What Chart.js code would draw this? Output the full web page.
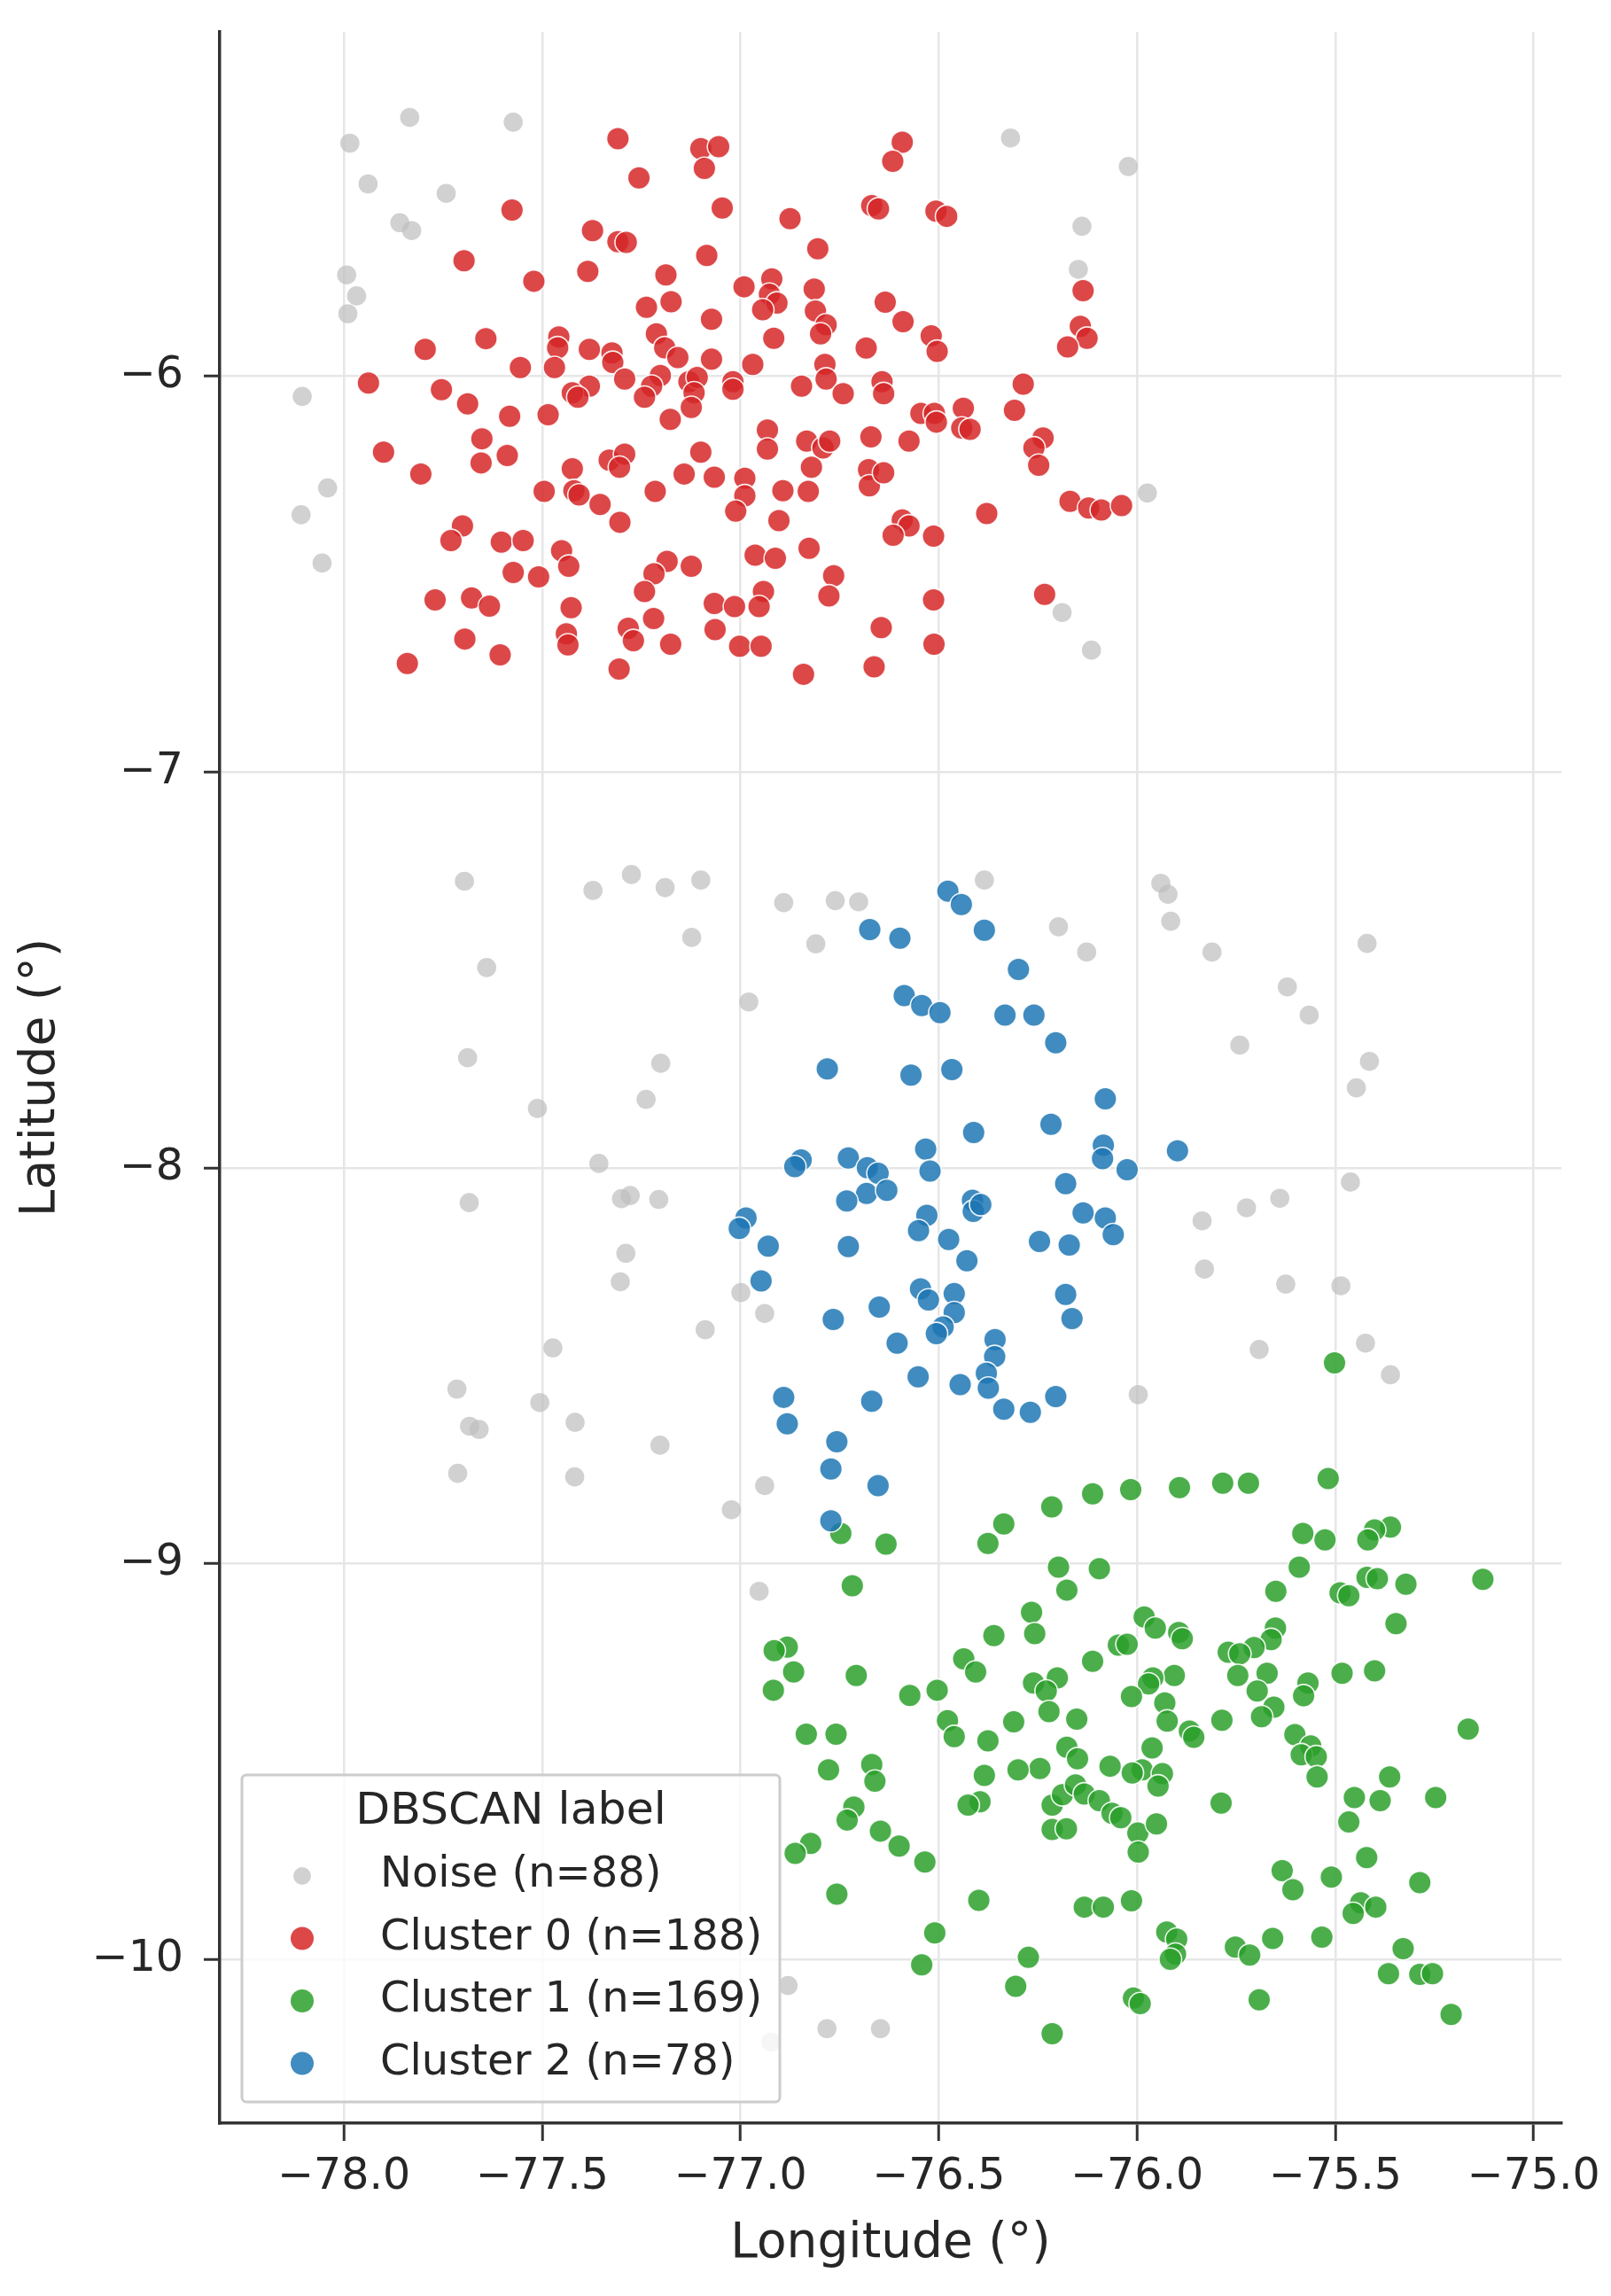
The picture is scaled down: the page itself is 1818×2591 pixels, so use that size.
<!DOCTYPE html>
<html lang="en">
<head>
    <meta charset="UTF-8" />
    <title>DBSCAN label</title>
    <script src="https://cdn.jsdelivr.net/npm/chart.js"></script>
    <style>
        html, body { margin: 0; padding: 0; background: #fff; }
        #wrap { width: 1818px; height: 2591px; position: relative; }
    </style>
</head>
<body>
<div id="wrap"><canvas id="grafica"></canvas></div>
<script>
    // ticks and series labels
    const xTicks = [-78, -77.5, -77, -76.5, -76, -75.5, -75];
    const yTicks = [-10, -9, -8, -7, -6];
    const seriesNames = ['Noise', 'Cluster 0', 'Cluster 1', 'Cluster 2'];
    const seriesCounts = [88, 188, 169, 78];

    // points as [longitude, latitude]
    const noisePts = [
        [-77.834,-5.346],[-77.573,-5.358],[-77.985,-5.411],[-77.939,-5.514],[-77.742,-5.538],
        [-77.859,-5.612],[-77.829,-5.632],[-77.993,-5.744],[-77.968,-5.797],[-77.990,-5.842],
        [-78.105,-6.051],[-78.041,-6.282],[-78.108,-6.350],[-78.055,-6.472],
        [-76.319,-5.398],[-76.022,-5.470],[-76.139,-5.621],[-76.148,-5.730],[-75.974,-6.295],
        [-76.189,-6.597],[-76.115,-6.692],
        [-77.696,-7.276],[-77.372,-7.299],[-77.275,-7.259],[-77.190,-7.292],[-77.100,-7.273],
        [-76.891,-7.330],[-76.761,-7.325],[-76.702,-7.328],[-77.123,-7.418],[-76.810,-7.434],
        [-77.640,-7.494],[-76.979,-7.581],[-77.688,-7.722],[-77.201,-7.736],[-77.238,-7.827],
        [-77.512,-7.850],[-77.357,-7.989],[-77.684,-8.088],[-77.300,-8.078],[-77.278,-8.070],
        [-77.206,-8.080],[-77.289,-8.216],[-77.303,-8.288],[-76.999,-8.315],[-76.939,-8.368],
        [-77.089,-8.409],[-77.473,-8.455],[-77.715,-8.559],[-77.506,-8.593],[-77.417,-8.643],
        [-77.683,-8.653],[-77.659,-8.661],[-77.203,-8.701],[-77.713,-8.772],[-77.418,-8.781],
        [-76.939,-8.803],
        [-76.385,-7.273],[-76.198,-7.391],[-76.127,-7.455],[-75.940,-7.281],[-75.922,-7.309],
        [-75.915,-7.377],[-75.811,-7.455],[-75.420,-7.433],[-75.621,-7.543],[-75.566,-7.614],
        [-75.741,-7.690],[-75.414,-7.731],[-75.447,-7.798],[-75.462,-8.036],[-75.640,-8.077],
        [-75.724,-8.101],[-75.836,-8.134],[-75.830,-8.256],[-75.625,-8.294],[-75.486,-8.298],
        [-75.692,-8.459],[-75.424,-8.443],[-75.361,-8.523],[-75.997,-8.573],
        [-77.023,-8.864],[-76.953,-9.070],[-76.880,-10.066],[-76.782,-10.175],[-76.647,-10.175],
        [-76.923,-10.209]
    ];

    const cluster0Pts = [
        [-77.309,-5.400],[-77.100,-5.425],[-77.055,-5.420],[-77.091,-5.475],[-77.256,-5.499],
        [-77.046,-5.575],[-77.576,-5.580],[-77.373,-5.632],[-77.309,-5.660],[-77.288,-5.662],
        [-77.697,-5.708],[-77.085,-5.695],[-77.385,-5.735],[-77.521,-5.760],[-77.188,-5.744],
        [-76.991,-5.774],[-77.237,-5.826],[-77.175,-5.812],[-77.073,-5.856],[-77.458,-5.901],
        [-77.461,-5.928],[-77.212,-5.893],[-77.191,-5.928],[-77.158,-5.953],[-77.795,-5.932],
        [-77.642,-5.905],[-77.381,-5.932],[-77.324,-5.941],[-77.322,-5.965],[-77.073,-5.957],
        [-77.555,-5.978],[-77.469,-5.978],[-77.938,-6.017],[-77.292,-6.007],[-77.202,-5.998],
        [-77.224,-6.025],[-77.130,-6.014],[-77.109,-6.003],[-77.117,-6.042],[-77.019,-6.014],
        [-77.019,-6.033],[-77.242,-6.053],[-77.381,-6.025],[-77.424,-6.042],[-77.410,-6.053],
        [-77.754,-6.034],[-77.688,-6.070],[-77.582,-6.101],[-77.485,-6.097],[-77.177,-6.109],
        [-77.124,-6.079],[-77.652,-6.158],[-77.654,-6.219],[-77.588,-6.200],[-77.900,-6.192],
        [-77.806,-6.247],[-77.424,-6.234],[-77.331,-6.212],[-77.292,-6.197],[-77.305,-6.230],
        [-77.100,-6.192],[-77.142,-6.247],[-77.066,-6.255],[-76.989,-6.258],[-76.989,-6.302],
        [-77.012,-6.341],[-77.495,-6.291],[-77.420,-6.289],[-77.407,-6.300],[-77.354,-6.324],
        [-77.215,-6.291],[-77.304,-6.369],[-77.701,-6.378],[-77.730,-6.415],[-77.603,-6.419],
        [-77.548,-6.415],[-77.451,-6.441],[-77.433,-6.480],[-77.185,-6.468],[-77.124,-6.480],
        [-77.218,-6.499],[-77.242,-6.544],[-77.573,-6.496],[-77.509,-6.507],[-77.770,-6.565],
        [-77.678,-6.560],[-77.633,-6.581],[-77.427,-6.585],[-77.066,-6.574],[-77.015,-6.582],
        [-77.219,-6.612],[-77.283,-6.637],[-77.270,-6.668],[-77.439,-6.651],[-77.435,-6.679],
        [-77.176,-6.677],[-77.695,-6.664],[-77.606,-6.704],[-77.064,-6.640],[-77.002,-6.682],
        [-77.840,-6.726],[-77.306,-6.740],
        [-76.592,-5.409],[-76.616,-5.457],[-76.669,-5.569],[-76.652,-5.577],[-76.507,-5.583],
        [-76.480,-5.596],[-76.875,-5.602],[-76.805,-5.678],[-76.136,-5.784],[-76.921,-5.754],
        [-76.927,-5.793],[-76.908,-5.815],[-76.944,-5.832],[-76.814,-5.780],[-76.811,-5.835],
        [-76.784,-5.870],[-76.798,-5.893],[-76.916,-5.904],[-76.635,-5.813],[-76.590,-5.862],
        [-76.519,-5.898],[-76.504,-5.937],[-76.683,-5.929],[-76.143,-5.874],[-76.126,-5.904],
        [-76.175,-5.926],[-76.969,-5.970],[-76.787,-5.970],[-76.784,-6.007],[-76.846,-6.025],
        [-76.741,-6.044],[-76.643,-6.014],[-76.639,-6.044],[-76.287,-6.020],[-76.309,-6.086],
        [-76.545,-6.094],[-76.511,-6.094],[-76.506,-6.116],[-76.438,-6.081],[-76.442,-6.131],
        [-76.421,-6.134],[-76.932,-6.136],[-76.932,-6.184],[-76.833,-6.164],[-76.792,-6.181],
        [-76.775,-6.164],[-76.671,-6.153],[-76.575,-6.164],[-76.237,-6.156],[-76.260,-6.181],
        [-76.248,-6.225],[-76.821,-6.230],[-76.893,-6.289],[-76.829,-6.291],[-76.677,-6.236],
        [-76.675,-6.277],[-76.639,-6.244],[-76.903,-6.365],[-76.169,-6.316],[-76.122,-6.333],
        [-76.090,-6.338],[-76.039,-6.327],[-76.379,-6.347],[-76.592,-6.363],[-76.575,-6.378],
        [-76.615,-6.402],[-76.513,-6.404],[-76.963,-6.452],[-76.912,-6.460],[-76.827,-6.435],
        [-76.765,-6.504],[-76.777,-6.555],[-76.942,-6.544],[-76.953,-6.582],[-76.513,-6.565],
        [-76.233,-6.551],[-76.645,-6.635],[-76.512,-6.677],[-76.948,-6.682],[-76.663,-6.734],
        [-76.841,-6.753]
    ];

    const cluster1Pts = [
        [-75.502,-8.493],
        [-76.747,-8.924],[-76.633,-8.951],[-76.718,-9.056],[-76.882,-9.211],[-76.915,-9.220],
        [-76.866,-9.274],[-76.917,-9.320],[-76.708,-9.283],[-76.834,-9.431],[-76.759,-9.431],
        [-76.778,-9.521],[-76.669,-9.508],[-76.661,-9.550],[-76.714,-9.615],[-76.731,-9.648],
        [-76.647,-9.676],[-76.823,-9.707],[-76.862,-9.732],[-76.757,-9.835],
        [-75.518,-8.785],[-75.784,-8.797],[-75.719,-8.797],[-75.893,-8.808],[-76.016,-8.813],
        [-76.112,-8.824],[-76.215,-8.857],[-76.336,-8.900],[-76.376,-8.949],[-75.582,-8.924],
        [-75.526,-8.940],[-75.361,-8.908],[-75.401,-8.915],[-75.418,-8.940],[-76.198,-9.009],
        [-76.095,-9.013],[-76.177,-9.067],[-75.591,-9.009],[-75.650,-9.070],[-75.420,-9.035],
        [-75.394,-9.038],[-75.488,-9.074],[-75.466,-9.081],[-75.322,-9.052],[-75.128,-9.040],
        [-75.347,-9.152],[-76.266,-9.123],[-76.258,-9.177],[-76.361,-9.182],[-75.982,-9.135],
        [-75.954,-9.163],[-75.895,-9.174],[-75.886,-9.190],[-76.047,-9.206],[-76.025,-9.204],
        [-76.112,-9.247],[-76.437,-9.241],[-76.407,-9.274],[-75.651,-9.163],[-75.662,-9.192],
        [-75.705,-9.212],[-75.770,-9.224],[-75.741,-9.228],[-76.504,-9.320],[-76.573,-9.333],
        [-76.261,-9.302],[-76.201,-9.289],[-76.229,-9.322],[-75.672,-9.277],[-75.746,-9.283],
        [-75.906,-9.283],[-75.960,-9.289],[-75.971,-9.304],[-76.014,-9.336],[-75.483,-9.277],
        [-75.401,-9.271],[-75.569,-9.302],[-75.580,-9.334],[-75.697,-9.322],[-75.655,-9.363],
        [-75.686,-9.387],[-75.930,-9.352],[-75.924,-9.398],[-76.222,-9.374],[-76.152,-9.393],
        [-76.311,-9.400],[-76.478,-9.397],[-76.461,-9.437],[-76.376,-9.448],[-75.786,-9.396],
        [-75.868,-9.423],[-75.857,-9.439],[-75.165,-9.418],[-75.602,-9.432],[-75.562,-9.461],
        [-75.586,-9.483],[-75.548,-9.488],[-75.546,-9.539],[-75.962,-9.466],[-76.177,-9.464],
        [-76.150,-9.493],[-76.068,-9.512],[-75.987,-9.521],[-76.012,-9.529],[-75.936,-9.531],
        [-75.947,-9.562],[-76.245,-9.518],[-76.300,-9.521],[-76.385,-9.535],[-76.396,-9.602],
        [-76.426,-9.610],[-76.214,-9.610],[-76.188,-9.584],[-76.155,-9.559],[-76.133,-9.582],
        [-76.095,-9.599],[-76.063,-9.631],[-76.041,-9.642],[-76.214,-9.672],[-76.178,-9.670],
        [-75.998,-9.681],[-75.997,-9.729],[-75.951,-9.658],[-75.788,-9.605],[-75.363,-9.539],
        [-75.452,-9.591],[-75.387,-9.599],[-75.247,-9.591],[-75.466,-9.653],[-76.600,-9.714],
        [-76.535,-9.754],[-75.421,-9.743],[-75.634,-9.776],[-75.607,-9.824],[-75.510,-9.792],
        [-75.287,-9.806],[-75.436,-9.857],[-75.398,-9.868],[-75.455,-9.884],[-76.399,-9.851],
        [-76.133,-9.868],[-76.085,-9.868],[-76.014,-9.852],[-76.510,-9.933],[-76.543,-10.014],
        [-75.925,-9.931],[-75.900,-9.949],[-75.903,-9.987],[-75.916,-10.000],[-75.752,-9.969],
        [-75.716,-9.989],[-75.658,-9.947],[-75.534,-9.944],[-75.329,-9.973],[-75.366,-10.036],
        [-75.287,-10.038],[-75.255,-10.036],[-75.208,-10.139],[-76.274,-9.995],[-76.306,-10.068],
        [-76.009,-10.098],[-75.992,-10.112],[-75.692,-10.102],[-76.214,-10.188]
    ];

    const cluster2Pts = [
        [-76.674,-7.398],[-76.781,-7.750],[-76.847,-7.980],[-76.863,-7.997],[-76.728,-7.975],
        [-76.680,-8.000],[-76.653,-8.014],[-76.682,-8.065],[-76.631,-8.057],[-76.732,-8.084],
        [-76.986,-8.127],[-77.003,-8.153],[-76.930,-8.198],[-76.728,-8.199],[-76.948,-8.286],
        [-76.650,-8.352],[-76.766,-8.383],[-76.891,-8.580],[-76.669,-8.590],[-76.882,-8.647],
        [-76.757,-8.692],[-76.772,-8.761],[-76.653,-8.803],[-76.772,-8.892],
        [-76.477,-7.301],[-76.443,-7.335],[-76.385,-7.400],[-76.598,-7.420],[-76.299,-7.499],
        [-76.587,-7.565],[-76.543,-7.590],[-76.497,-7.608],[-76.333,-7.614],[-76.260,-7.614],
        [-76.205,-7.684],[-76.570,-7.766],[-76.467,-7.752],[-76.080,-7.826],[-76.412,-7.911],
        [-76.217,-7.890],[-76.533,-7.953],[-76.085,-7.943],[-76.087,-7.977],[-76.025,-8.005],
        [-75.898,-7.957],[-76.522,-8.008],[-76.180,-8.040],[-76.415,-8.082],[-76.413,-8.110],
        [-76.394,-8.093],[-76.530,-8.120],[-76.551,-8.159],[-76.136,-8.114],[-76.080,-8.127],
        [-76.060,-8.169],[-76.475,-8.181],[-76.246,-8.186],[-76.171,-8.195],[-76.429,-8.235],
        [-76.546,-8.306],[-76.526,-8.334],[-76.461,-8.318],[-76.461,-8.366],[-76.489,-8.402],
        [-76.506,-8.419],[-76.605,-8.443],[-76.180,-8.320],[-76.164,-8.381],[-76.358,-8.434],
        [-76.359,-8.477],[-76.380,-8.519],[-76.375,-8.557],[-76.552,-8.528],[-76.446,-8.548],
        [-76.336,-8.610],[-76.269,-8.618],[-76.205,-8.578]
    ];

    const fuente = '"DejaVu Sans", "Liberation Sans", sans-serif';
    const textoColor = '#262626';

    function puntos(lista) {
        return lista.map(p => ({ x: p[0], y: p[1] }));
    }

    const estilos = [
        { fill: 'rgba(190,190,190,0.7)', radius: 10.8, border: 0, legendRadius: 10 },
        { fill: 'rgba(214,39,40,0.85)', radius: 12.8, border: 1.6, legendRadius: 13 },
        { fill: 'rgba(44,160,44,0.85)', radius: 12.8, border: 1.6, legendRadius: 13 },
        { fill: 'rgba(31,119,180,0.85)', radius: 12.8, border: 1.6, legendRadius: 13 }
    ];
    const series = [noisePts, cluster0Pts, cluster1Pts, cluster2Pts];

    const datasets = series.map((lista, i) => ({
        label: `${seriesNames[i]} (n=${seriesCounts[i]})`,
        data: puntos(lista),
        backgroundColor: estilos[i].fill,
        borderColor: 'rgba(255,255,255,0.9)',
        borderWidth: estilos[i].border,
        pointRadius: estilos[i].radius,
        pointHoverRadius: estilos[i].radius,
        order: 4 - i
    }));

    // legend drawn inside the plot, lower left, like matplotlib's
    const leyenda = {
        id: 'leyenda',
        afterDraw(chart) {
            const c = chart.ctx;
            const area = chart.chartArea;
            const w = 607, h = 369;
            const x0 = area.left + 25;
            const y0 = area.bottom - 24 - h;
            c.save();
            c.beginPath();
            c.roundRect(x0, y0, w, h, 5);
            c.fillStyle = 'rgba(255,255,255,0.8)';
            c.fill();
            c.lineWidth = 3;
            c.strokeStyle = '#cccccc';
            c.stroke();

            c.fillStyle = textoColor;
            c.textBaseline = 'middle';
            c.font = `50.5px ${fuente}`;
            c.textAlign = 'center';
            c.fillText('DBSCAN label', x0 + w / 2, y0 + 42);

            c.font = `48px ${fuente}`;
            c.textAlign = 'left';
            chart.data.datasets.forEach((ds, i) => {
                const yy = y0 + 114 + i * 70.5;
                c.beginPath();
                c.arc(x0 + 68, yy, estilos[i].legendRadius, 0, Math.PI * 2);
                c.fillStyle = estilos[i].fill;
                c.fill();
                c.fillStyle = textoColor;
                c.fillText(ds.label, x0 + 156, yy);
            });
            c.restore();
        }
    };

    // fixed axis boxes, no extra label padding added to the layout
    function fijar(s, ancho, alto) {
        if (ancho) s.width = ancho;
        if (alto) s.height = alto;
        s.paddingTop = 0;
        s.paddingBottom = 0;
        s.paddingLeft = 0;
        s.paddingRight = 0;
    }

    const ctx = document.getElementById('grafica').getContext('2d');
    new Chart(ctx, {
        type: 'scatter',
        data: { datasets },
        plugins: [leyenda],
        options: {
            responsive: true,
            maintainAspectRatio: false,
            animation: false,
            layout: { padding: { top: 36, right: 56, left: 0, bottom: 0 } },
            plugins: {
                legend: { display: false },
                tooltip: { enabled: false }
            },
            scales: {
                x: {
                    type: 'linear',
                    min: -78.313,
                    max: -74.930,
                    afterBuildTicks: s => { s.ticks = xTicks.map(v => ({ value: v })); },
                    afterFit: s => fijar(s, 0, 195),
                    grid: { color: '#e6e6e6', lineWidth: 2.5, drawTicks: true, tickLength: 20, tickColor: '#333', tickWidth: 3 },
                    border: { color: '#333', width: 3.5 },
                    ticks: {
                        color: textoColor,
                        font: { family: fuente, size: 49 },
                        padding: 12,
                        maxRotation: 0,
                        autoSkip: false,
                        callback: v => v.toFixed(1).replace('-', '\u2212')
                    },
                    title: {
                        display: true,
                        text: 'Longitude (°)',
                        color: textoColor,
                        font: { family: fuente, size: 55 },
                        padding: { top: 0, bottom: 25 }
                    }
                },
                y: {
                    type: 'linear',
                    min: -10.414,
                    max: -5.130,
                    afterBuildTicks: s => { s.ticks = yTicks.map(v => ({ value: v })); },
                    afterFit: s => fijar(s, 248, 0),
                    grid: { color: '#e6e6e6', lineWidth: 2.5, drawTicks: true, tickLength: 18, tickColor: '#333', tickWidth: 3 },
                    border: { color: '#333', width: 3.5 },
                    ticks: {
                        color: textoColor,
                        font: { family: fuente, size: 49 },
                        padding: 23,
                        autoSkip: false,
                        callback: v => String(v).replace('-', '\u2212')
                    },
                    title: {
                        display: true,
                        text: 'Latitude (°)',
                        color: textoColor,
                        font: { family: fuente, size: 55 },
                        padding: { top: 14, bottom: 0 }
                    }
                }
            }
        }
    });
</script>
</body>
</html>
